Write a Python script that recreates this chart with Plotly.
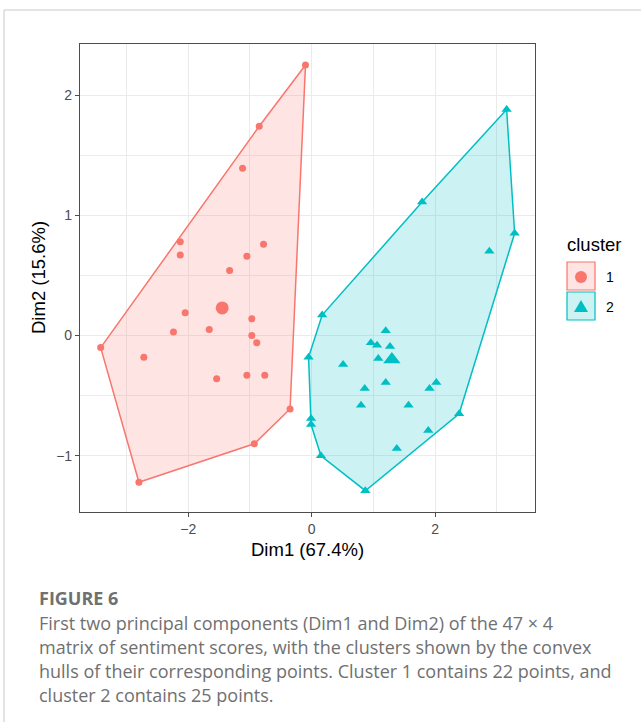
import plotly.graph_objects as go

# ---------------- data ----------------
c1_x = [-0.10, -0.85, -1.12, -2.13, -2.13, -0.78, -1.05, -1.33, -2.05, -0.97, -2.24,
        -1.66, -0.97, -0.89, -3.42, -2.72, -1.54, -1.05, -0.76, -0.35, -0.93, -2.80]
c1_y = [2.25, 1.74, 1.39, 0.78, 0.67, 0.76, 0.66, 0.54, 0.19, 0.14, 0.03,
        0.05, 0.00, -0.06, -0.10, -0.18, -0.36, -0.33, -0.33, -0.61, -0.90, -1.22]
c2_x = [3.16, 1.79, 3.29, 2.88, 0.17, 1.20, 0.96, 1.06, 1.27, 1.08, -0.05, 0.51, 1.20,
        0.86, 1.91, 2.02, 0.80, 1.57, 2.39, -0.01, -0.01, 1.89, 1.38, 0.15, 0.87]
c2_y = [1.88, 1.11, 0.85, 0.70, 0.17, 0.04, -0.06, -0.08, -0.09, -0.19, -0.18, -0.24, -0.39,
        -0.44, -0.44, -0.39, -0.58, -0.58, -0.65, -0.69, -0.74, -0.79, -0.94, -1.00, -1.29]
centers_x = [-1.45, 1.30]
centers_y = [0.23, -0.20]
cluster_names = ["1", "2"]
x_ticks = [-2, 0, 2]
y_ticks = [-1, 0, 1, 2]
x_title = "Dim1 (67.4%)"
y_title = "Dim2 (15.6%)"
legend_title = "cluster"
caption_head = "FIGURE 6"
caption_lines = [
    "First two principal components (Dim1 and Dim2) of the 47 \u00d7 4",
    "matrix of sentiment scores, with the clusters shown by the convex",
    "hulls of their corresponding points. Cluster 1 contains 22 points, and",
    "cluster 2 contains 25 points.",
]

RED = "#F8766D"
CYAN = "#00BFC4"
RED_FILL = "rgba(248,118,109,0.2)"
CYAN_FILL = "rgba(0,191,196,0.2)"
FONT = "Liberation Sans"
CAP_FONT = "Open Sans"


def convex_hull(xs, ys):
    pts = sorted(set(zip(xs, ys)))
    if len(pts) < 3:
        return pts

    def cross(o, a, b):
        return (a[0] - o[0]) * (b[1] - o[1]) - (a[1] - o[1]) * (b[0] - o[0])

    lower, upper = [], []
    for p in pts:
        while len(lower) >= 2 and cross(lower[-2], lower[-1], p) <= 0:
            lower.pop()
        lower.append(p)
    for p in reversed(pts):
        while len(upper) >= 2 and cross(upper[-2], upper[-1], p) <= 0:
            upper.pop()
        upper.append(p)
    return lower[:-1] + upper[:-1]


fig = go.Figure()

for xs, ys, col, fillc, sym, sz in [
    (c1_x, c1_y, RED, RED_FILL, "circle", 7),
    (c2_x, c2_y, CYAN, CYAN_FILL, "triangle-up", 9),
]:
    hull = convex_hull(xs, ys)
    hx = [p[0] for p in hull] + [hull[0][0]]
    hy = [p[1] for p in hull] + [hull[0][1]]
    fig.add_trace(go.Scatter(x=hx, y=hy, mode="lines", fill="toself",
                             fillcolor=fillc, line=dict(color=col, width=1.5),
                             showlegend=False, hoverinfo="skip"))
    fig.add_trace(go.Scatter(x=xs, y=ys, mode="markers",
                             marker=dict(symbol=sym, size=sz, color=col, line=dict(width=0)),
                             showlegend=False))

fig.add_trace(go.Scatter(x=[centers_x[0]], y=[centers_y[0]], mode="markers",
                         marker=dict(symbol="circle", size=13, color=RED, line=dict(width=0)),
                         showlegend=False))
fig.add_trace(go.Scatter(x=[centers_x[1]], y=[centers_y[1]], mode="markers",
                         marker=dict(symbol="triangle-up", size=15, color=CYAN, line=dict(width=0)),
                         showlegend=False))

# ---------------- layout geometry (pixels) ----------------
W, H = 641, 722
L, R, T, B = 80, 535, 44, 512


def px(x):
    return (x - L) / (R - L)


def py(y):
    return (B - y) / (B - T)


axis_common = dict(
    showgrid=True, gridcolor="#ebebeb", gridwidth=1.1,
    zeroline=False, showline=True, linecolor="#4d4d4d", linewidth=1.2, mirror=True,
    ticks="outside", ticklen=4, tickcolor="#4d4d4d", tickwidth=1.1,
    tickfont=dict(family=FONT, size=14, color="#4d4d4d"),
)

fig.update_layout(
    width=W, height=H,
    margin=dict(l=L, r=W - R, t=T, b=H - B),
    paper_bgcolor="white", plot_bgcolor="white",
    font=dict(family=FONT),
    xaxis=dict(range=[-3.755, 3.62], tickvals=x_ticks,
               ticktext=["\u22122", "0", "2"],
               minor=dict(tickvals=[-3, -1, 1, 3], showgrid=True,
                          gridcolor="#ebebeb", gridwidth=0.6, ticks=""),
               **axis_common),
    yaxis=dict(range=[-1.467, 2.424], tickvals=y_ticks,
               ticktext=["\u22121", "0", "1", "2"],
               minor=dict(tickvals=[-0.5, 0.5, 1.5], showgrid=True,
                          gridcolor="#ebebeb", gridwidth=0.6, ticks=""),
               **axis_common),
    showlegend=False,
)

shapes = []
annotations = []

# outer frame (top and left lines)
shapes.append(dict(type="line", xref="paper", yref="paper",
                   x0=px(4), y0=py(10), x1=px(641), y1=py(10),
                   line=dict(color="#c8c8c8", width=1)))
shapes.append(dict(type="line", xref="paper", yref="paper",
                   x0=px(4), y0=py(10), x1=px(4), y1=py(722),
                   line=dict(color="#c8c8c8", width=1)))

# axis titles
annotations.append(dict(text=x_title, xref="paper", yref="paper",
                        x=px(307.5), y=py(549), showarrow=False,
                        xanchor="center", yanchor="middle",
                        font=dict(family=FONT, size=18.5, color="black")))
annotations.append(dict(text=y_title, xref="paper", yref="paper",
                        x=px(38), y=py(278), showarrow=False, textangle=-90,
                        xanchor="center", yanchor="middle",
                        font=dict(family=FONT, size=18.5, color="black")))

# legend
annotations.append(dict(text=legend_title, xref="paper", yref="paper",
                        x=px(565), y=py(244), showarrow=False,
                        xanchor="left", yanchor="middle",
                        font=dict(family=FONT, size=18.5, color="black")))
key_tops = [262, 292]
for i, (col, fillc) in enumerate([(RED, RED_FILL), (CYAN, CYAN_FILL)]):
    t = key_tops[i]
    shapes.append(dict(type="rect", xref="paper", yref="paper",
                       x0=px(567), x1=px(595), y0=py(t + 28), y1=py(t),
                       fillcolor=fillc, line=dict(color=col, width=1.2)))
    cy = t + 15
    if i == 0:
        shapes.append(dict(type="circle", xref="paper", yref="paper",
                           x0=px(581 - 6), x1=px(581 + 6), y0=py(cy + 6), y1=py(cy - 6),
                           fillcolor=col, line=dict(width=0)))
    else:
        path = "M {},{} L {},{} L {},{} Z".format(
            px(581), py(cy - 7), px(574), py(cy + 5), px(588), py(cy + 5))
        shapes.append(dict(type="path", xref="paper", yref="paper", path=path,
                           fillcolor=col, line=dict(width=0)))
    annotations.append(dict(text=cluster_names[i], xref="paper", yref="paper",
                            x=px(604), y=py(cy), showarrow=False,
                            xanchor="left", yanchor="middle",
                            font=dict(family=FONT, size=14, color="black")))

# caption
annotations.append(dict(text="<b>" + caption_head + "</b>", xref="paper", yref="paper",
                        x=px(37), y=py(598), showarrow=False,
                        xanchor="left", yanchor="middle",
                        font=dict(family=CAP_FONT, size=18, color="#707070")))
for k, line in enumerate(caption_lines):
    annotations.append(dict(text=line, xref="paper", yref="paper",
                            x=px(37), y=py(623 + 24 * k), showarrow=False,
                            xanchor="left", yanchor="middle",
                            font=dict(family=CAP_FONT, size=18, color="#707070")))

fig.update_layout(shapes=shapes, annotations=annotations)

fig.write_html("out.html", config={"displayModeBar": False},
               post_script="document.body.style.margin='0';")
